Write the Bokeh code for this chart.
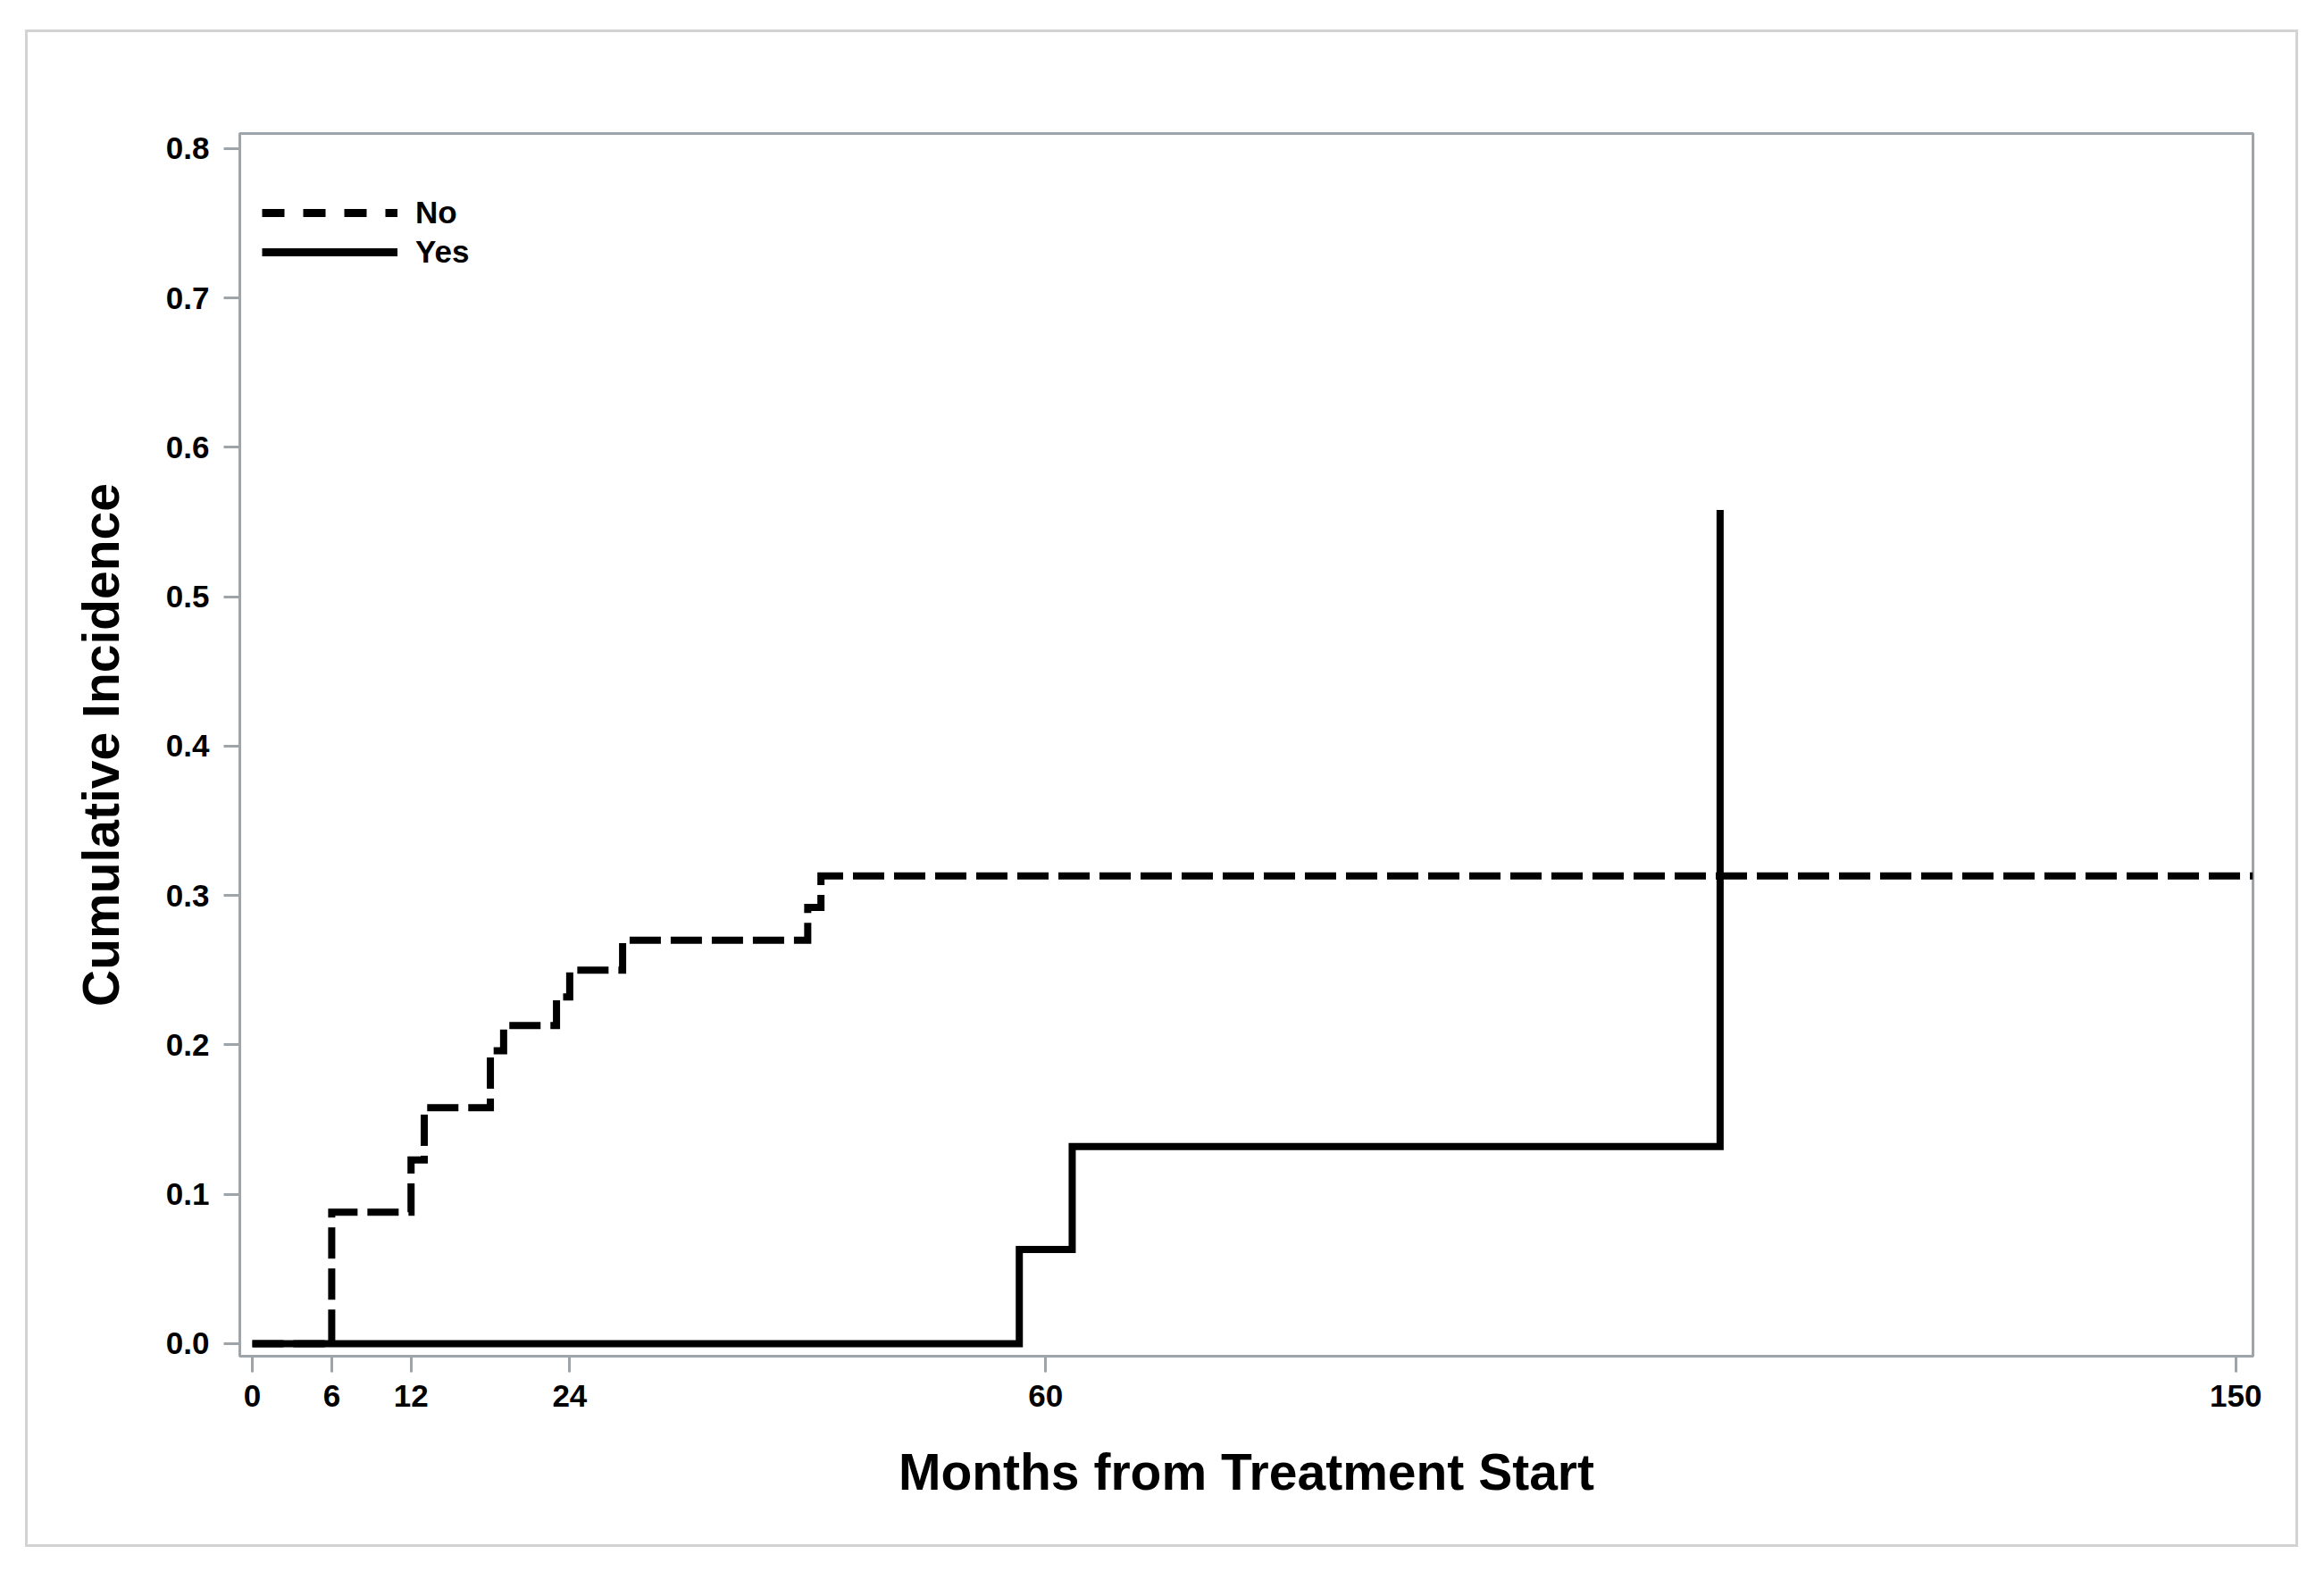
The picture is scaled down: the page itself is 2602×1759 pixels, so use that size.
from bokeh.plotting import figure
from bokeh.layouts import column
from bokeh.models import Range1d, FixedTicker, PrintfTickFormatter, Legend, LegendItem
from bokeh.embed import file_html
from bokeh.resources import INLINE

# ---- data ----
no_t = [0, 6, 12, 13, 18, 19, 23, 24, 28, 42, 43, 151.3]
no_ci = [0.0, 0.088, 0.123, 0.158, 0.196, 0.213, 0.232, 0.250, 0.270, 0.292, 0.313, 0.313]

yes_t = [0, 58, 62, 111]
yes_ci = [0.0, 0.063, 0.132, 0.558]

x_ticks = [0, 6, 12, 24, 60, 150]
y_ticks = [0.0, 0.1, 0.2, 0.3, 0.4, 0.5, 0.6, 0.7, 0.8]

AXIS_GRAY = "#9da5aa"
FONT = "Liberation Sans"

p = figure(width=2539, height=1693, output_backend="svg", toolbar_location=None,
           x_range=Range1d(-0.95, 151.3), y_range=Range1d(-0.0084, 0.810),
           min_border_left=237, min_border_right=48, min_border_top=113, min_border_bottom=211)

p.background_fill_color = "white"
p.border_fill_color = "white"
p.xgrid.visible = False
p.ygrid.visible = False
p.outline_line_color = AXIS_GRAY
p.outline_line_width = 3

# dashed series first, solid on top
r_no = p.step(no_t, no_ci, mode="after", line_color="black", line_width=8,
              line_dash="35 11", line_join="miter")
r_yes = p.step(yes_t, yes_ci, mode="after", line_color="black", line_width=8,
               line_join="miter")

# legend-only renderers (different dash pattern in the legend), kept outside the visible range
l_no = p.line([-50, -49], [-1, -1], line_color="black", line_width=9, line_dash="25 21")
l_yes = p.line([-50, -49], [-1, -1], line_color="black", line_width=9)

legend = Legend(items=[LegendItem(label="No", renderers=[l_no]),
                       LegendItem(label="Yes", renderers=[l_yes])],
                location=(25, 1216), glyph_width=152, glyph_height=40, spacing=4,
                padding=0, margin=0, label_standoff=20, label_height=40,
                background_fill_alpha=0, border_line_color=None,
                label_text_font=FONT, label_text_font_style="bold",
                label_text_font_size="35px", label_text_color="black")
p.add_layout(legend)

for ax in (p.xaxis[0], p.yaxis[0]):
    ax.axis_line_color = AXIS_GRAY
    ax.axis_line_width = 3
    ax.major_tick_line_color = AXIS_GRAY
    ax.major_tick_line_width = 3
    ax.major_tick_out = 18
    ax.major_tick_in = 0
    ax.minor_tick_line_color = None
    ax.major_label_text_font = FONT
    ax.major_label_text_font_style = "bold"
    ax.major_label_text_font_size = "35px"
    ax.major_label_text_color = "black"
    ax.axis_label_text_font = FONT
    ax.axis_label_text_font_style = "bold"
    ax.axis_label_text_font_size = "57px"
    ax.axis_label_text_color = "black"

p.xaxis.ticker = FixedTicker(ticks=x_ticks)
p.yaxis.ticker = FixedTicker(ticks=y_ticks)
p.yaxis.formatter = PrintfTickFormatter(format="%.1f")
p.xaxis.major_label_standoff = 14
p.yaxis.major_label_standoff = 16
p.xaxis.axis_label = "Months from Treatment Start"
p.yaxis.axis_label = "Cumulative Incidence"
p.xaxis.axis_label_standoff = 38
p.yaxis.axis_label_standoff = 38

layout = column(p, margin=(33, 0, 0, 28), styles={"border": "3px solid #d3d3d3"})

open("out.html", "w").write(file_html(layout, INLINE))
